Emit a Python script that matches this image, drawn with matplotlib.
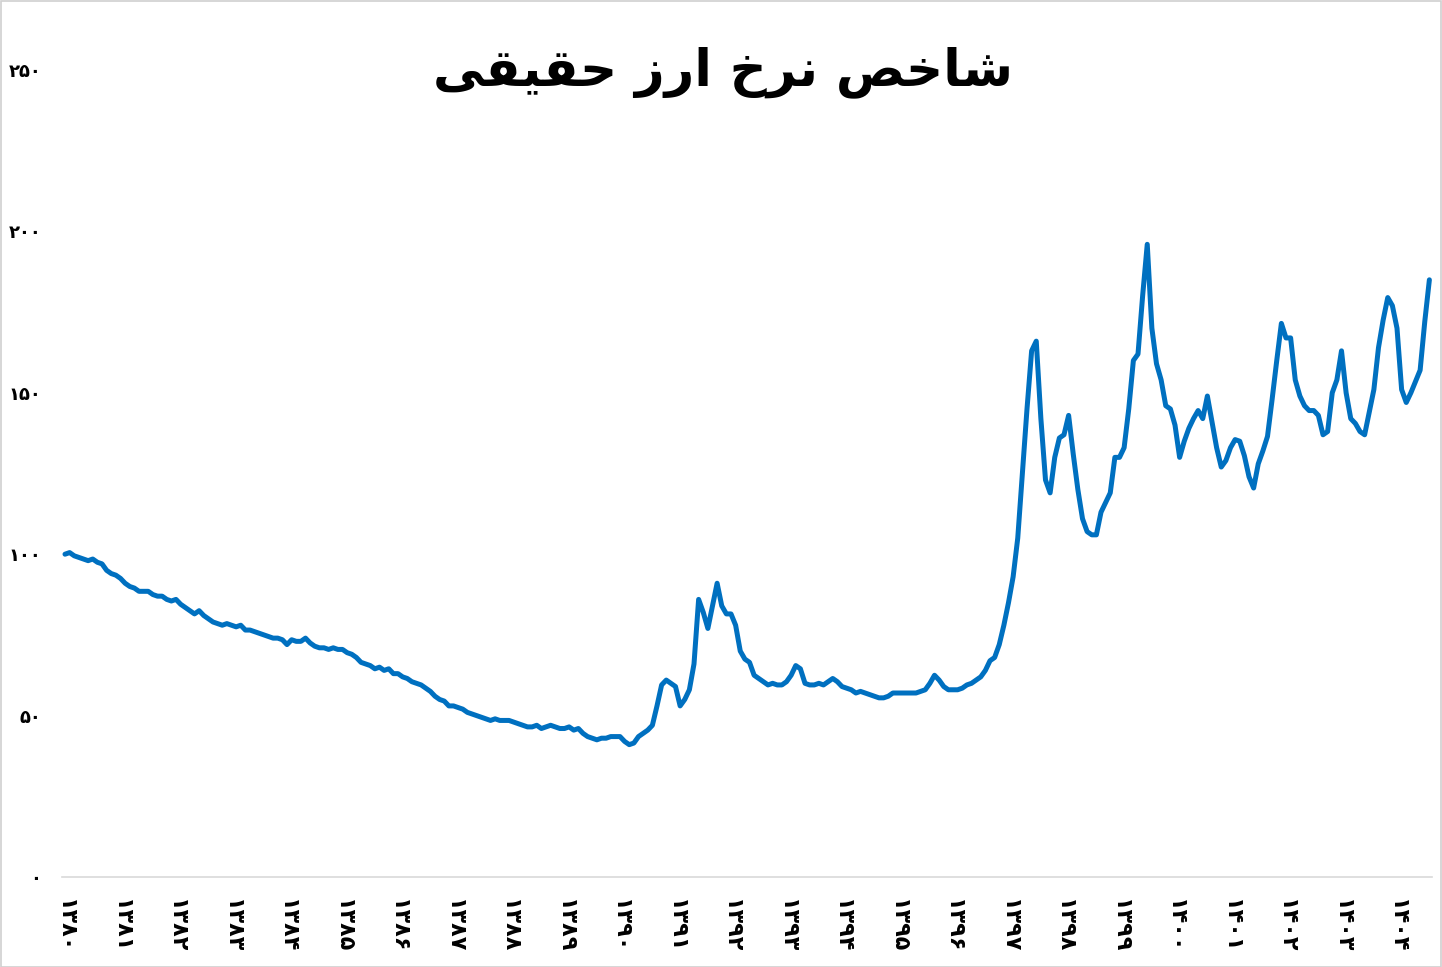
import matplotlib
matplotlib.use("Agg")
import matplotlib.pyplot as plt
import numpy as np
from matplotlib.patches import Rectangle

# ---- data (monthly real exchange-rate index, 1380/01 .. 1404/08) ----
y1380 = [100, 100.5, 99.5, 99, 98.5, 98, 98.5, 97.5, 97, 95, 94, 93.5]
y1381 = [92.5, 91, 90, 89.5, 88.5, 88.5, 88.5, 87.5, 87, 87, 86, 85.5]
y1382 = [86, 84.5, 83.5, 82.5, 81.5, 82.5, 81, 80, 79, 78.5, 78, 78.5]
y1383 = [78, 77.5, 78, 76.5, 76.5, 76, 75.5, 75, 74.5, 74, 74, 73.5]
y1384 = [72, 73.5, 73, 73, 74, 72.5, 71.5, 71, 71, 70.5, 71, 70.5]
y1385 = [70.5, 69.5, 69, 68, 66.5, 66, 65.5, 64.5, 65, 64, 64.5, 63]
y1386 = [63, 62, 61.5, 60.5, 60, 59.5, 58.5, 57.5, 56, 55, 54.5, 53]
y1387 = [53, 52.5, 52, 51, 50.5, 50, 49.5, 49, 48.5, 49, 48.5, 48.5]
y1388 = [48.5, 48, 47.5, 47, 46.5, 46.5, 47, 46, 46.5, 47, 46.5, 46]
y1389 = [46, 46.5, 45.5, 46, 44.5, 43.5, 43, 42.5, 43, 43, 43.5, 43.5]
y1390 = [43.5, 42, 41, 41.5, 43.5, 44.5, 45.5, 47, 53, 59.5, 61, 60]
y1391 = [59, 53, 55, 58, 66, 86, 82, 77, 84, 91, 84, 81.5]
y1392 = [81.5, 78, 70, 67.5, 66.5, 62.5, 61.5, 60.5, 59.5, 60, 59.5, 59.5]
y1393 = [60.5, 62.5, 65.5, 64.5, 60, 59.5, 59.5, 60, 59.5, 60.5, 61.5, 60.5]
y1394 = [59, 58.5, 58, 57, 57.5, 57, 56.5, 56, 55.5, 55.5, 56, 57]
y1395 = [57, 57, 57, 57, 57, 57.5, 58, 60, 62.5, 61, 59, 58]
y1396 = [58, 58, 58.5, 59.5, 60, 61, 62, 64, 67, 68, 72, 78]
y1397 = [85, 93, 105, 125, 145, 163, 166, 142, 123, 119, 130, 136]
y1398 = [137, 143, 131, 120, 111, 107, 106, 106, 113, 116, 119, 130]
y1399 = [130, 133, 145, 160, 162, 180, 196, 170, 159, 154, 146, 145]
y1400 = [140, 130, 135, 139, 142, 144.5, 142, 149, 141, 133, 127, 129]
y1401 = [133, 135.5, 135, 130.5, 124, 120.5, 128, 132, 136.5, 148, 160, 171.5]
y1402 = [167, 167, 154, 149, 146, 144.5, 144.5, 143, 137, 138, 150, 154]
y1403 = [163, 150, 142, 140.5, 138, 137, 144, 151, 164, 172.5, 179.5, 177]
y1404 = [170, 151, 147, 150, 153.5, 157, 172, 185]

rate_index = (y1380 + y1381 + y1382 + y1383 + y1384 + y1385 + y1386 + y1387 +
              y1388 + y1389 + y1390 + y1391 + y1392 + y1393 + y1394 + y1395 +
              y1396 + y1397 + y1398 + y1399 + y1400 + y1401 + y1402 + y1403 + y1404)

year_labels = ["۱۳۸۰", "۱۳۸۱", "۱۳۸۲", "۱۳۸۳", "۱۳۸۴", "۱۳۸۵", "۱۳۸۶", "۱۳۸۷",
               "۱۳۸۸", "۱۳۸۹", "۱۳۹۰", "۱۳۹۱", "۱۳۹۲", "۱۳۹۳", "۱۳۹۴", "۱۳۹۵",
               "۱۳۹۶", "۱۳۹۷", "۱۳۹۸", "۱۳۹۹", "۱۴۰۰", "۱۴۰۱", "۱۴۰۲", "۱۴۰۳", "۱۴۰۴"]
y_ticks = [0, 50, 100, 150, 200, 250]
y_tick_labels = ["۰", "۵۰", "۱۰۰", "۱۵۰", "۲۰۰", "۲۵۰"]

# Title "شاخص نرخ ارز حقیقی" written with presentation forms in visual order
title_text = ("\uFEF0\uFED8\uFEF4\uFED8\uFEA3" + " " +
              "\uFEAF\uFEAD\uFE8D" + " " +
              "\uFEA5\uFEAE\uFEE7" + " " +
              "\uFEBA\uFEA7\uFE8E\uFEB7")

W, H = 1442, 967
fig = plt.figure(figsize=(W / 100, H / 100), dpi=100)
fig.patch.set_facecolor("white")

left_px, right_px = 62, 1432
bottom_px, top_px = 877, 70
ax = fig.add_axes([left_px / W, 1 - bottom_px / H,
                   (right_px - left_px) / W, (bottom_px - top_px) / H])

t = np.arange(len(rate_index))
ax.plot(t, rate_index, color="#0070C0", lw=3.6, solid_joinstyle="round",
        solid_capstyle="round")

px_per_month = 4.625
ax.set_xlim((left_px - 65) / px_per_month, (right_px - 65) / px_per_month)
ax.set_ylim(0, 250)

ax.set_xticks(np.arange(len(year_labels)) * 12)
ax.set_xticklabels(year_labels, rotation=270, fontsize=16, fontweight="bold",
                   family="DejaVu Sans")
ax.set_yticks(y_ticks)
ax.set_yticklabels(y_tick_labels, fontsize=13, fontweight="bold",
                   family="DejaVu Sans")
ax.tick_params(axis="both", length=0)
ax.tick_params(axis="x", pad=16)
ax.tick_params(axis="y", pad=15)

for s in ["top", "right", "left"]:
    ax.spines[s].set_visible(False)
ax.spines["bottom"].set_color("#D9D9D9")
ax.spines["bottom"].set_linewidth(1.2)
ax.set_facecolor("none")

fig.text(723 / W, 1 - 72 / H, title_text, ha="center", va="center",
         fontsize=37, fontweight="bold", family="DejaVu Sans")

fig.patches.append(Rectangle((0.5 / W, 0.5 / H), 1 - 1.5 / W, 1 - 1.5 / H,
                             transform=fig.transFigure, fill=False,
                             edgecolor="#D0D0D0", lw=1.2))

fig.savefig("out.png", dpi=100)
